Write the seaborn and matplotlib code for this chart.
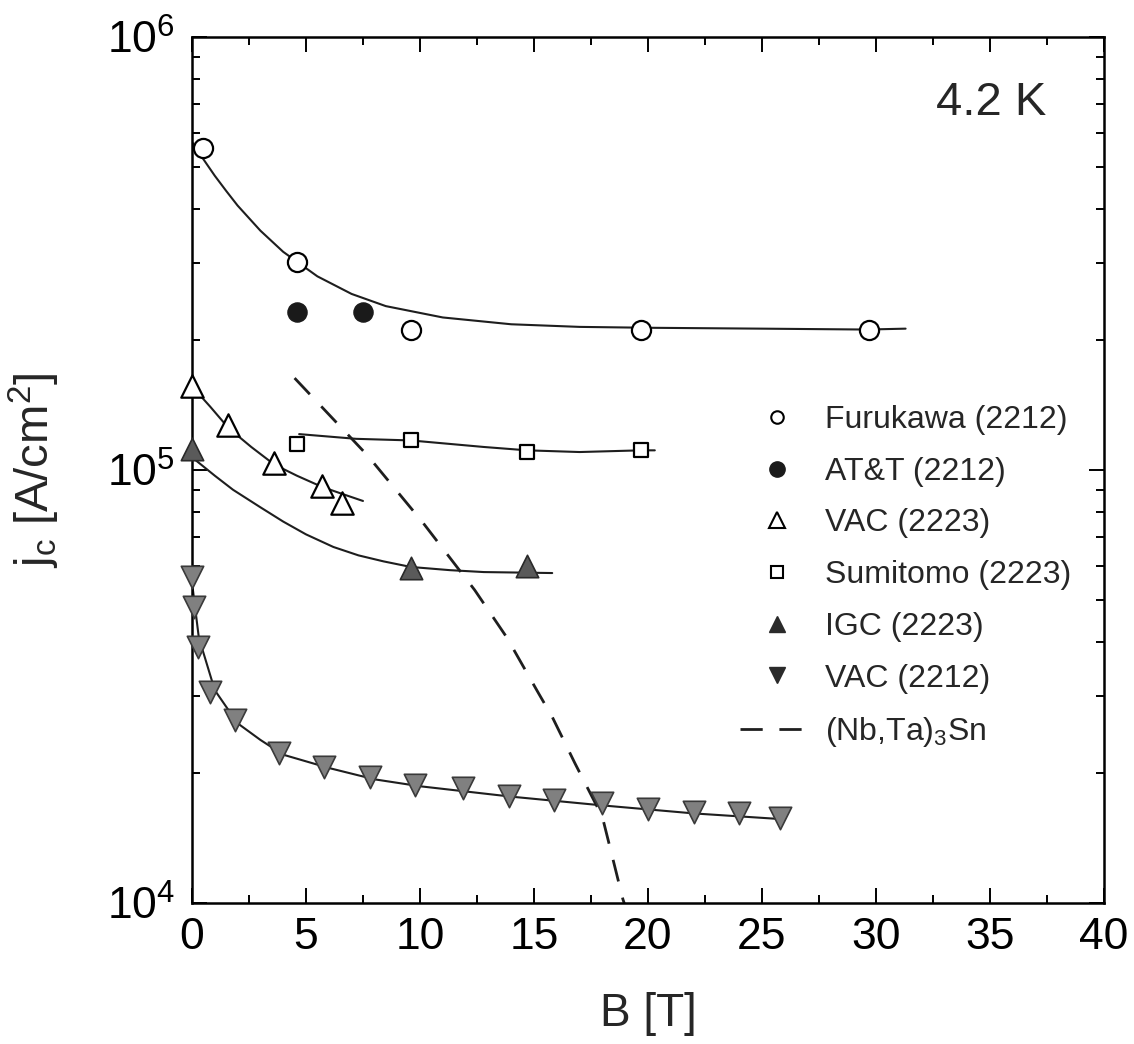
import matplotlib
matplotlib.use("Agg")
import matplotlib.pyplot as plt
from matplotlib.lines import Line2D
from matplotlib.ticker import MultipleLocator, LogLocator, NullFormatter
import seaborn as sns

# ---- measured points (B in T, jc in A/cm2) ----
furu_b = [0.5, 4.6, 9.6, 19.7, 29.7]
furu_jc = [5.54e5, 3.02e5, 2.10e5, 2.10e5, 2.10e5]

att_b = [4.6, 7.5]
att_jc = [2.32e5, 2.32e5]

vac23_b = [0.0, 1.6, 3.6, 5.7, 6.6]
vac23_jc = [1.56e5, 1.27e5, 1.04e5, 9.2e4, 8.4e4]

sumi_b = [4.6, 9.6, 14.7, 19.7]
sumi_jc = [1.15e5, 1.17e5, 1.10e5, 1.11e5]

igc_b = [0.0, 9.6, 14.7]
igc_jc = [1.12e5, 5.94e4, 6.0e4]

vac12_b = [0.0, 0.1, 0.25, 0.8, 1.9, 3.8, 5.8, 7.8, 9.8, 11.9, 13.9, 15.9, 18.0, 20.0, 22.0, 24.0, 25.8]
vac12_jc = [5.66e4, 4.83e4, 3.9e4, 3.07e4, 2.65e4, 2.22e4, 2.06e4, 1.95e4, 1.87e4, 1.84e4,
            1.77e4, 1.73e4, 1.70e4, 1.65e4, 1.62e4, 1.61e4, 1.57e4]

# ---- hand drawn guide curves ----
furu_fit_b = [0.0, 0.5, 1.0, 1.5, 2.0, 3.0, 4.0, 5.5, 7.0, 8.5, 11.0, 14.0, 17.0, 20.0, 25.0, 29.6, 31.3]
furu_fit_jc = [5.72e5, 5.22e5, 4.78e5, 4.41e5, 4.08e5, 3.57e5, 3.19e5, 2.80e5, 2.55e5, 2.39e5,
               2.25e5, 2.17e5, 2.14e5, 2.13e5, 2.12e5, 2.11e5, 2.12e5]

vac23_fit_b = [0.0, 0.8, 1.6, 2.6, 3.6, 4.6, 5.7, 6.6, 7.5]
vac23_fit_jc = [1.56e5, 1.40e5, 1.25e5, 1.13e5, 1.03e5, 9.7e4, 9.14e4, 8.8e4, 8.48e4]

igc_fit_b = [0.0, 1.0, 1.8, 3.0, 4.0, 5.0, 6.2, 7.3, 8.4, 9.6, 11.3, 12.8, 15.8]
igc_fit_jc = [1.07e5, 9.7e4, 9.0e4, 8.2e4, 7.6e4, 7.1e4, 6.64e4, 6.35e4, 6.15e4, 5.97e4,
              5.87e4, 5.81e4, 5.78e4]

sumi_fit_b = [4.7, 7.2, 9.6, 12.8, 14.7, 17.0, 19.7, 20.3]
sumi_fit_jc = [1.21e5, 1.18e5, 1.17e5, 1.13e5, 1.11e5, 1.10e5, 1.11e5, 1.11e5]

vac12_fit_b = [0.0, 0.3, 1.0, 2.0, 3.0, 4.0, 6.0, 8.0, 10.0, 14.0, 18.0, 22.0, 26.0]
vac12_fit_jc = [5.5e4, 4.1e4, 3.1e4, 2.6e4, 2.38e4, 2.2e4, 2.05e4, 1.93e4, 1.86e4, 1.76e4,
                1.68e4, 1.61e4, 1.56e4]

nb_b = [4.5, 7.7, 10.1, 12.4, 13.8, 15.2, 15.8, 16.8, 18.0, 18.5, 18.9, 19.1]
nb_jc = [1.63e5, 1.08e5, 7.59e4, 5.28e4, 4.11e4, 3.05e4, 2.69e4, 2.10e4, 1.58e4, 1.24e4, 1.02e4, 9.5e3]

labels = ["Furukawa (2212)", "AT&T (2212)", "VAC (2223)", "Sumitomo (2223)",
          "IGC (2223)", "VAC (2212)", "(Nb,Ta)$_3$Sn"]

sns.set_theme(style="ticks")
plt.rcParams["font.family"] = ["Liberation Sans", "DejaVu Sans"]
plt.rcParams["mathtext.fontset"] = "custom"
plt.rcParams["mathtext.rm"] = "Liberation Sans"
plt.rcParams["mathtext.it"] = "Liberation Sans"

fig = plt.figure(figsize=(11.34, 10.44), dpi=100)
ax = fig.add_axes([0.1693, 0.1351, 0.8042, 0.8295])

line_c = "#1e1e1e"
fits = [(furu_fit_b, furu_fit_jc), (vac23_fit_b, vac23_fit_jc), (igc_fit_b, igc_fit_jc),
        (sumi_fit_b, sumi_fit_jc), (vac12_fit_b, vac12_fit_jc)]
for fb, fj in fits:
    sns.lineplot(x=fb, y=fj, ax=ax, color=line_c, lw=1.5, sort=False, estimator=None)

sns.lineplot(x=nb_b, y=nb_jc, ax=ax, color=line_c, lw=2.0, sort=False, estimator=None,
             dashes=False, linestyle=(0, (8, 6)))

# markers
sns.scatterplot(x=furu_b, y=furu_jc, ax=ax, marker="o", s=190, color="white",
                edgecolor="black", linewidth=1.6, zorder=5, clip_on=False)
sns.scatterplot(x=att_b, y=att_jc, ax=ax, marker="o", s=190, color="#1a1a1a",
                edgecolor="#1a1a1a", linewidth=1.0, zorder=5, clip_on=False)
sns.scatterplot(x=vac23_b, y=vac23_jc, ax=ax, marker="^", s=260, color="white",
                edgecolor="black", linewidth=1.6, zorder=5, clip_on=False)
sns.scatterplot(x=sumi_b, y=sumi_jc, ax=ax, marker="s", s=100, color="white",
                edgecolor="black", linewidth=1.6, zorder=5, clip_on=False)
sns.scatterplot(x=igc_b, y=igc_jc, ax=ax, marker="^", s=260, color="#5a5a5a",
                edgecolor="#2a2a2a", linewidth=1.2, zorder=5, clip_on=False)
sns.scatterplot(x=vac12_b, y=vac12_jc, ax=ax, marker="v", s=260, color="#808080",
                edgecolor="#3a3a3a", linewidth=1.2, zorder=5, clip_on=False)

ax.set_yscale("log")
ax.set_ylim(1e4, 1e6)
ax.set_xlim(0, 40)
ax.xaxis.set_major_locator(MultipleLocator(5))
ax.xaxis.set_minor_locator(MultipleLocator(2.5))
ax.yaxis.set_minor_locator(LogLocator(base=10, subs=range(2, 10)))
ax.yaxis.set_minor_formatter(NullFormatter())

ax.tick_params(which="both", direction="in", top=True, right=True, width=1.4, colors="black")
ax.tick_params(which="major", length=11)
ax.tick_params(which="minor", length=6)
ax.tick_params(axis="x", labelsize=32, pad=10)
ax.tick_params(axis="y", labelsize=32, pad=12)
for sp in ax.spines.values():
    sp.set_linewidth(1.8)
    sp.set_color("black")

ax.set_xlabel("B [T]", fontsize=33)
ax.xaxis.set_label_coords(0.5, -0.103)
ax.set_ylabel("j$_\\mathrm{c}$ [A/cm$^2$]", fontsize=34)
ax.yaxis.set_label_coords(-0.143, 0.5)

ax.text(0.876, 0.924, "4.2 K", transform=ax.transAxes, fontsize=34, ha="center", va="center")

handles = [
    Line2D([], [], ls="none", marker="o", ms=9, mfc="white", mec="black", mew=1.5),
    Line2D([], [], ls="none", marker="o", ms=11, mfc="#1a1a1a", mec="#1a1a1a"),
    Line2D([], [], ls="none", marker="^", ms=11, mfc="white", mec="black", mew=1.5),
    Line2D([], [], ls="none", marker="s", ms=8, mfc="white", mec="black", mew=1.5),
    Line2D([], [], ls="none", marker="^", ms=12, mfc="#2a2a2a", mec="#2a2a2a"),
    Line2D([], [], ls="none", marker="v", ms=12, mfc="#2a2a2a", mec="#2a2a2a"),
    Line2D([], [], color=line_c, lw=2.0, linestyle=(0, (8, 6))),
]
ax.legend(handles, labels, loc="upper left", bbox_to_anchor=(0.601, 0.575), frameon=False,
          fontsize=23, borderpad=0, borderaxespad=0, handlelength=2.3, handletextpad=0.35,
          labelspacing=0.68)

fig.savefig("out.png", dpi=100)
